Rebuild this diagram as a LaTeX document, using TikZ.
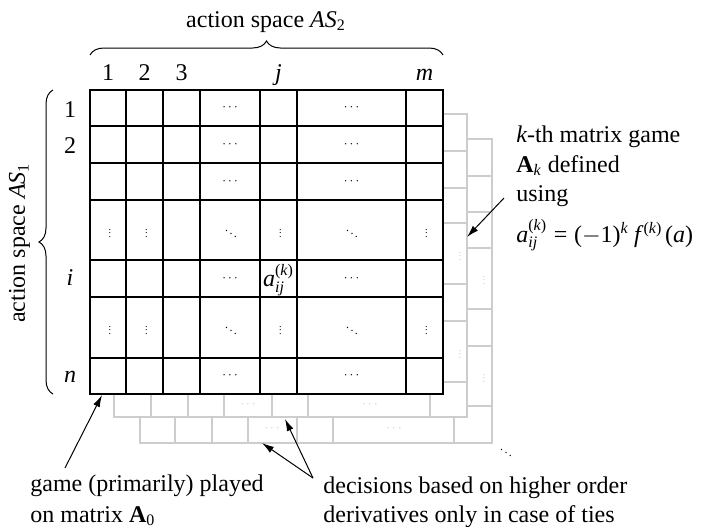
\documentclass[tikz,border=0pt]{standalone}
\usepackage[no-math]{fontspec}
\setmainfont[NFSSFamily=libser]{Liberation Serif}
\DeclareSymbolFont{operators}{TU}{libser}{m}{n}
\DeclareSymbolFont{letters}{TU}{libser}{m}{it}
\DeclareMathAlphabet{\mathbf}{TU}{libser}{b}{n}
\usetikzlibrary{decorations.pathreplacing,arrows.meta}
\definecolor{lg}{RGB}{205,205,205}
\newcommand\hdts{\scalebox{0.55}{$\cdots$}}
\newcommand\vdts{\scalebox{0.42}{$\vdots$}}
\newcommand\ddts{\scalebox{0.5}{$\ddots$}}
\begin{document}
\begin{tikzpicture}[x=0.5pt,y=-0.5pt, font=\fontsize{12}{15}\selectfont,
  frontgrid/.style={line width=0.7pt, draw=black, fill=white},
  backgrid/.style={line width=0.55pt, draw=lg, fill=white},
  dts/.style={inner sep=0pt},
  gdts/.style={inner sep=0pt, text=lg},
  lbl/.style={inner sep=0pt, anchor=base},
  txt/.style={inner sep=0pt, anchor=base west},
  arr/.style={-{Latex[length=6pt,width=3.5pt]}, line width=0.5pt},
  brc/.style={decorate, decoration={brace, amplitude=7pt}, line width=0.5pt}]
\useasboundingbox (0,0) rectangle (707,526);

% layer 2
\filldraw[backgrid] (140,139) rectangle (492,443);
\foreach \x in {175,212,248,297,333,454} \draw[backgrid] (\x,139) -- (\x,443);
\foreach \y in {176,212,248,309,346,406} \draw[backgrid] (140,\y) -- (492,\y);
\node[gdts] (l2a) at (272,429) {\hdts};
\node[gdts] (l2b) at (394,429) {\hdts};
\node[gdts] (l2c) at (484,278) {\vdts};
\node[gdts] (l2d) at (484,376) {\vdts};

% layer 1
\filldraw[backgrid] (114,114) rectangle (467,417);
\foreach \x in {151,188,224,272,308,430} \draw[backgrid] (\x,114) -- (\x,417);
\foreach \y in {151,188,223,284,321,382} \draw[backgrid] (114,\y) -- (467,\y);
\node[gdts] (l1a) at (248,405) {\hdts};
\node[gdts] (l1b) at (370,405) {\hdts};
\node[gdts] (l1c) at (460,254) {\vdts};
\node[gdts] (l1d) at (460,352) {\vdts};

% front layer
\filldraw[frontgrid] (90,90) rectangle (443,394);
\foreach \x in {126,163,200,260,297,406} \draw[frontgrid] (\x,90) -- (\x,394);
\foreach \y in {126,163,200,260,297,358} \draw[frontgrid] (90,\y) -- (443,\y);

% cell contents
\foreach \y [count=\r] in {108,144.5,181.5,278.5,376} {
  \node[dts] (ca\r) at (230,\y) {\hdts};
  \node[dts] (cb\r) at (351.5,\y) {\hdts};
}
\foreach \y [count=\r] in {231,328} {
  \foreach \x [count=\c] in {110,146.5,280.5,426.5} {
    \node[dts] (v\r\c) at (\x,\y) {\vdts};
  }
  \node[dts] (da\r) at (231,\y) {\ddts};
  \node[dts] (db\r) at (352,\y) {\ddts};
}
\node[inner sep=0pt] (aij) at (278.5,280) {$a_{ij}^{(k)}$};
\node[inner sep=0pt] (dd) at (506,450) {\ddts};

% column and row labels
\node[lbl] (c1) at (108,80) {1};
\node[lbl] (c2) at (144.5,80) {2};
\node[lbl] (c3) at (181.5,80) {3};
\node[lbl] (cj) at (278.5,80) {$j$};
\node[lbl] (cm) at (424.5,80) {$m$};
\node[inner sep=0pt] (r1) at (70,110) {1};
\node[inner sep=0pt] (r2) at (70,146) {2};
\node[inner sep=0pt] (ri) at (70,278) {$i$};
\node[inner sep=0pt] (rn) at (70,377) {$n$};

% braces
\draw[brc] (90,55) -- (443,55);
\draw[brc] (53,394) -- (53,90);
\node[lbl] (as2) at (266,27) {action space $AS_2$};
\node[lbl, rotate=90] (as1) at (25,243) {action space $AS_1$};

% right annotation
\node[txt] (t1) at (516,142) {$k$-th matrix game};
\node[txt] (t2) at (516,172) {$\mathbf{A}_k$ defined};
\node[txt] (t3) at (516,201) {using};
\node[txt] (t4) at (516,242) {$a_{ij}^{(k)}=(-1)^{k}\mkern4mu f^{\mkern3mu(k)}\mkern2mu(a)$};
\coordinate (s3) at (504,198);
\coordinate (e3) at (467,237);
\draw[arr] (s3) -- (e3);

% bottom annotations
\node[txt] (b1) at (30,491) {game (primarily) played};
\node[txt] (b2) at (30,522) {on matrix $\mathbf{A}_0$};
\node[txt] (b3) at (323,493) {decisions based on higher order};
\node[txt] (b4) at (323,522) {derivatives only in case of ties};
\coordinate (s1) at (65,468);
\coordinate (e1) at (102,395);
\draw[arr] (s1) -- (e1);
\coordinate (s2) at (313,478);
\coordinate (e2a) at (262,443);
\coordinate (e2b) at (285,419);
\draw[arr] (s2) -- (e2a);
\draw[arr] (s2) -- (e2b);
\end{tikzpicture}
\end{document}
